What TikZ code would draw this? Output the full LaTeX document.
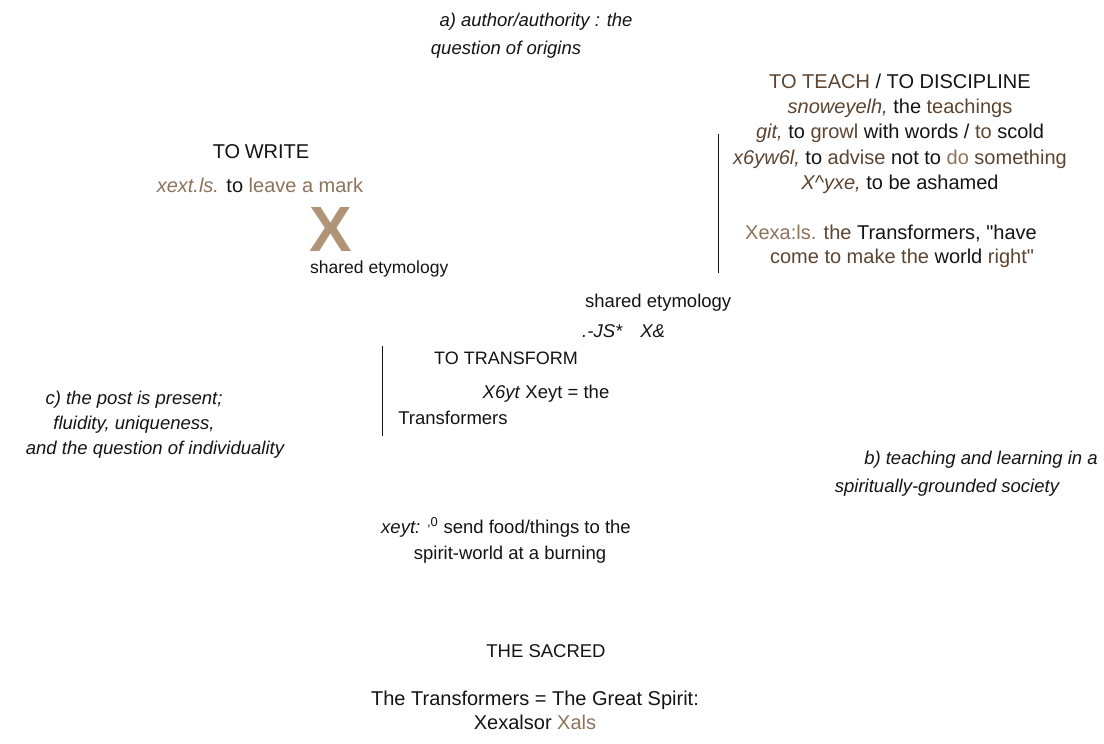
\documentclass[tikz,border=0pt]{standalone}
\usepackage{fontspec}
\setmainfont{Liberation Sans}
\newfontfamily\plainq{Liberation Sans}
\definecolor{tanc}{RGB}{140,115,90}
\definecolor{brn}{RGB}{92,68,48}
\definecolor{xcol}{RGB}{176,148,120}
\definecolor{ink}{RGB}{20,20,20}
\newcommand{\sq}{{\plainq"}}
\begin{document}
\begin{tikzpicture}[x=1pt,y=-1pt,
  lbl/.style={inner sep=0pt, anchor=base, text=ink, font=\fontsize{18.5}{22}\selectfont},
  ilbl/.style={lbl, font=\fontsize{18.5}{22}\selectfont\itshape},
  big/.style={lbl, font=\fontsize{20}{24}\selectfont},
  vline/.style={draw=ink, line width=1pt}]
\useasboundingbox (0,0) rectangle (1104,744);
% a)
\node[ilbl] (a1) at (536,26) {a) author/authority : the};
\node[ilbl] (a2) at (506,54) {question of origins};
% teach block
\node[big] (t1) at (900,88) {\textcolor{brn}{TO TEACH} / TO DISCIPLINE};
\node[big] (t2) at (900,113) {\textcolor{brn}{\itshape snoweyelh,} the \textcolor{brn}{teachings}};
\node[big] (t3) at (900,138) {\textcolor{brn}{\itshape git,} to \textcolor{brn}{growl} with words / \textcolor{brn}{to} scold};
\node[big] (t4) at (900,164) {\textcolor{brn}{\itshape x6yw6l,} to \textcolor{brn}{advise} not to \textcolor{tanc}{do} \textcolor{brn}{something}};
\node[big] (t5) at (900,189) {\textcolor{brn}{\itshape X\^{}yxe,} to be ashamed};
\node[big] (t6) at (891,239) {\textcolor{tanc}{Xexa:ls.} \textcolor{brn}{the} Transformers, \sq have};
\node[big] (t7) at (902,263) {\textcolor{brn}{come to make the} world \textcolor{brn}{right\sq}};
\coordinate (v1a) at (718,134);
\coordinate (v1b) at (718,273);
\draw[vline] (v1a) -- (v1b);
% to write
\node[big] (w1) at (261,158) {TO\kern-1pt\ WRITE};
\node[big] (w2) at (260,192) {\textcolor{tanc}{\itshape xext.ls.} to \textcolor{tanc}{leave a mark}};
\node[inner sep=0pt, anchor=base, text=xcol, font=\fontsize{64}{64}\selectfont\bfseries] (bx) at (331,251) {X};
\node[lbl, anchor=base west, font=\fontsize{17.5}{22}\selectfont] (se1) at (310,273) {shared etymology};
% middle
\node[lbl, anchor=base west] (se2) at (585,307) {shared etymology};
\node[lbl, anchor=base west, font=\fontsize{18.5}{22}\selectfont\itshape] (js) at (582,337) {.-JS*\hspace{18pt}X\&};
\coordinate (v2a) at (382,346);
\coordinate (v2b) at (382,436);
\draw[vline] (v2a) -- (v2b);
\node[lbl, font=\fontsize{18}{22}\selectfont] (tr1) at (506,364) {TO TRANSFORM};
\node[lbl] (tr2) at (546,398) {\textit{X6yt} Xeyt = the};
\node[lbl] (tr3) at (453,424) {Transformers};
% c)
\node[ilbl] (c1) at (134,404) {c) the post is present;};
\node[ilbl] (c2) at (134,429) {fluidity, uniqueness,};
\node[ilbl] (c3) at (155,454) {and the question of individuality};
% b)
\node[ilbl] (b1) at (981,464) {b) teaching and learning in a};
\node[ilbl] (b2) at (947,492) {spiritually-grounded society};
% xeyt
\node[lbl] (x1) at (506,533) {\textit{xeyt:} \textsuperscript{,0} send food/things to the};
\node[lbl] (x2) at (510,559) {spirit-world at a burning};
% sacred
\node[lbl] (s1) at (546,657) {THE SACRED};
\node[big] (s2) at (535,705) {The Transformers = The Great Spirit:};
\node[big] (s3) at (535,729) {Xexalsor \textcolor{tanc}{Xals}};
\end{tikzpicture}
\end{document}
